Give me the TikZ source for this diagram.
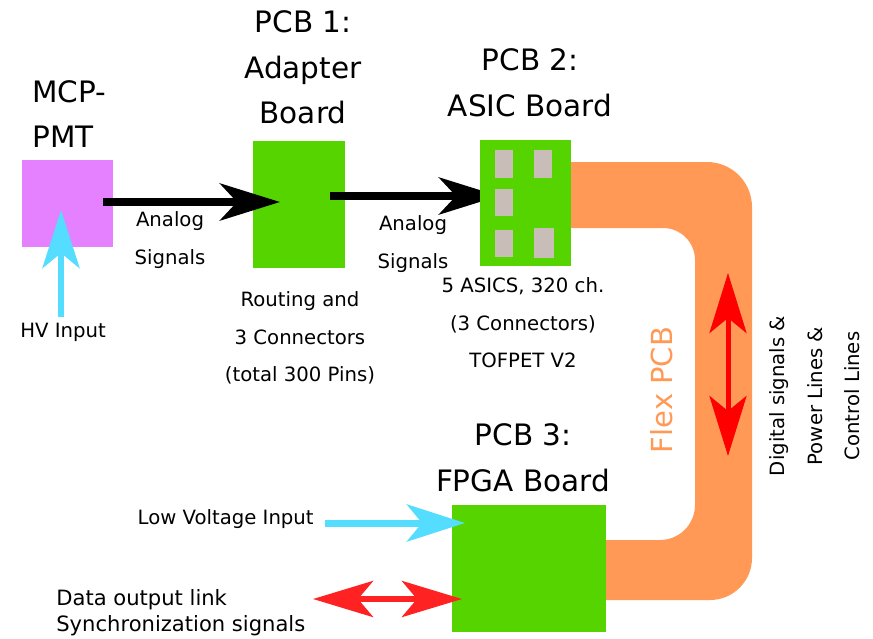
\documentclass[tikz,border=0pt]{standalone}
\usepackage{fontspec}
\setmainfont{DejaVu Sans}
\usetikzlibrary{arrows.meta}

\definecolor{pmtviolet}{RGB}{229,128,255}
\definecolor{pcbgreen}{RGB}{85,212,0}
\definecolor{chipgrey}{RGB}{200,190,183}
\definecolor{flexorange}{RGB}{255,153,85}
\definecolor{hvcyan}{RGB}{85,221,255}
\definecolor{linkred}{RGB}{255,34,34}

\newcommand{\boardfont}{\fontsize{16.8}{26}\selectfont}
\newcommand{\notefont}{\fontsize{11.2}{21.3}\selectfont}
\newcommand{\linkfont}{\fontsize{12}{14.7}\selectfont}

\tikzset{
  pcbbox/.style={fill=pcbgreen, inner sep=0pt},
  chipbox/.style={fill=chipgrey, minimum width=0.36cm, minimum height=0.56cm, inner sep=0pt},
  titletext/.style={font=\boardfont, align=center, inner sep=0pt},
  notetext/.style={font=\notefont, align=center, inner sep=0pt},
  sigarrow/.style={line width=0.16cm, -{Stealth[length=1.2cm, width=0.74cm, inset=0.34cm]}},
  hvarrow/.style={hvcyan, line width=0.14cm, -{Stealth[length=1.16cm, width=0.74cm, inset=0.3cm]}},
  linkarrow/.style={linkred, line width=0.12cm, {Stealth[length=1.2cm, width=0.72cm, inset=0.3cm]}-{Stealth[length=1.2cm, width=0.72cm, inset=0.3cm]}},
  flexarrow/.style={red, line width=0.1cm, {Stealth[length=1.2cm, width=0.74cm, inset=0.3cm]}-{Stealth[length=1.2cm, width=0.74cm, inset=0.3cm]}}
}

\begin{document}
\begin{tikzpicture}[x=0.02cm, y=0.02cm]
\useasboundingbox (0,0) rectangle (873,-639);

% flex cable behind the boards
\fill[flexorange] (560,-162) -- (707,-162) arc[start angle=90, end angle=0, radius=45]
  -- (752,-558) arc[start angle=0, end angle=-90, radius=42]
  -- (600,-600) -- (600,-540) -- (660,-540) arc[start angle=-90, end angle=0, radius=35]
  -- (695,-260) arc[start angle=0, end angle=90, radius=32]
  -- (560,-228) -- cycle;

\node[fill=pmtviolet, minimum width=1.82cm, minimum height=1.74cm, inner sep=0pt] (pmt) at (67.5,-203.5) {};
\node[pcbbox, minimum width=1.84cm, minimum height=2.54cm] (adapter) at (299,-204.5) {};

\coordinate (sig1s) at (103,-202);
\coordinate (sig1e) at (280,-202);
\coordinate (sig2s) at (330,-196);
\coordinate (sig2e) at (499,-196);
\draw[sigarrow] (sig1s) -- (sig1e);
\draw[sigarrow] (sig2s) -- (sig2e);

\node[pcbbox, minimum width=1.82cm, minimum height=2.52cm] (asic) at (525.5,-203) {};
\foreach \n/\x/\y in {1/504/-164, 2/543/-164, 3/504/-202.5, 4/504/-243.5}
{\node[chipbox] (chip\n) at (\x,\y) {};}
\node[chipbox, minimum width=0.4cm, minimum height=0.6cm] (chip5) at (544,-243) {};

\node[pcbbox, minimum width=3.08cm, minimum height=2.54cm] (fpga) at (529,-568.5) {};

\coordinate (hvin) at (61,-317);
\coordinate (hvtip) at (61,-210);
\draw[hvarrow] (hvin) -- (hvtip);
\coordinate (lvin) at (325,-523);
\coordinate (lvtip) at (465,-523);
\draw[hvarrow] (lvin) -- (lvtip);
\coordinate (linkl) at (313,-599);
\coordinate (linkr) at (462,-599);
\draw[linkarrow] (linkl) -- (linkr);
\coordinate (flexa) at (728,-273);
\coordinate (flexb) at (728,-456);
\draw[flexarrow] (flexa) -- (flexb);

% titles
\node[titletext, align=left, anchor=west] (pmttitle) at (32,-114) {MCP-\\PMT};
\node[titletext] (adaptertitle) at (303,-67.5) {PCB 1:\\Adapter\\Board};
\node[titletext] (asictitle) at (530,-82.5) {PCB 2:\\ASIC Board};
\node[titletext] (fpgatitle) at (523,-458) {PCB 3:\\FPGA Board};

% notes
\node[notetext] (sig1note) at (170,-240) {Analog\\Signals};
\node[notetext] (sig2note) at (413,-244) {Analog\\Signals};
\node[notetext] (adapternote) at (300,-338) {Routing and\\3 Connectors\\(total 300 Pins)};
\node[notetext] (asicnote) at (523,-323) {5 ASICS, 320 ch.\\(3 Connectors)\\TOFPET V2};
\node[notetext] (hvnote) at (63,-332) {HV Input};
\node[notetext, anchor=east] (lvnote) at (314,-519) {Low Voltage Input};
\node[font=\linkfont, align=left, anchor=west, inner sep=0pt] (linknote) at (56,-613) {Data output link\\Synchronization signals};
\node[font=\fontsize{16.5}{20}\selectfont, text=flexorange, rotate=90, inner sep=0pt] (flexnote) at (662,-390) {Flex PCB};
\node[notetext, rotate=90] (flexlines) at (815,-396) {Digital signals \&\\Power Lines \&\\Control Lines};
\end{tikzpicture}
\end{document}
